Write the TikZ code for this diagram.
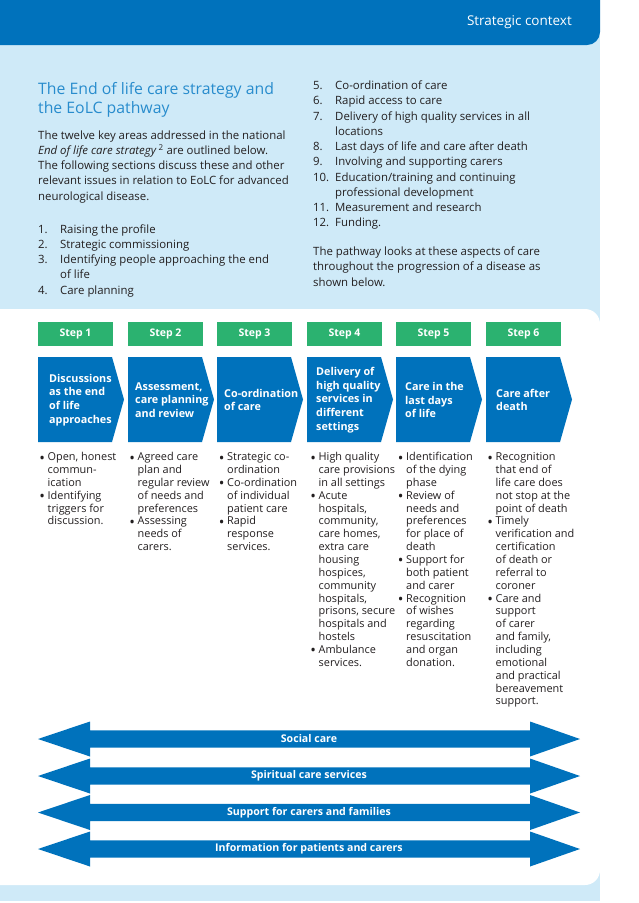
\documentclass[tikz,border=0pt]{standalone}
\usepackage{fontspec}
\setmainfont{Open Sans}
\definecolor{hdrblue}{RGB}{0,114,188}
\definecolor{paleblue}{RGB}{207,234,248}
\definecolor{titleblue}{RGB}{40,140,205}
\definecolor{stepgreen}{RGB}{43,178,112}
\definecolor{bodytext}{RGB}{35,31,32}
\newcommand{\bitem}{\makebox[7.5pt][l]{\hspace*{-0.8pt}\raisebox{-2.3pt}{\fontsize{15}{15}\selectfont\textbullet}}}
\newcommand{\bcont}{\hspace*{7.5pt}}
\newcommand{\numc}[1]{\makebox[22pt][l]{#1}}
\begin{document}
\begin{tikzpicture}[x=1pt,y=-1pt,
  stepbox/.style={fill=stepgreen,text=white,font=\bfseries\fontsize{10.5}{12}\selectfont,minimum width=75pt,minimum height=24pt,inner sep=0pt},
  chevtext/.style={text=white,font=\bfseries\fontsize{10.8}{13.8}\selectfont,align=left,anchor=west,inner sep=0pt},
  bodyblock/.style={text=bodytext,font=\fontsize{11.4}{15.25}\selectfont,anchor=base west,inner sep=0pt},
  bulletblock/.style={text=bodytext,font=\fontsize{10.9}{12.85}\selectfont,anchor=base west,inner sep=0pt},
  bandtext/.style={text=white,font=\bfseries\fontsize{10.6}{12}\selectfont,inner sep=0pt},
  chevron/.style={fill=hdrblue},
  band/.style={fill=hdrblue}]
\useasboundingbox (0,0) rectangle (638,903);
\clip (0,0) rectangle (638,903);
\fill[white] (0,0) rectangle (638,903);
\fill[paleblue] (0,0) rectangle (600,901);
\fill[hdrblue,rounded corners=13pt] (-30,-30) rectangle (600,45);
\fill[white,rounded corners=15pt] (-30,309) rectangle (600,885);
\node[text=white,font=\fontsize{13.5}{15}\selectfont,anchor=base east,inner sep=0pt] (hdr) at (572,25.5) {Strategic context};
% title and text
\node[text=titleblue,font=\fontsize{15.8}{19}\selectfont,anchor=base west,inner sep=0pt] (title) at (38,94.5)
  {\begin{tabular}[t]{@{}l@{}}The End of life care strategy and\\ the EoLC pathway\end{tabular}};
\node[bodyblock] (para) at (38,139) {\begin{tabular}[t]{@{}l@{}}
The twelve key areas addressed in the national\\
\textit{End of life care strategy}\,\textsuperscript{2} are outlined below.\\
The following sections discuss these and other\\
relevant issues in relation to EoLC for advanced\\
neurological disease.\end{tabular}};
\node[bodyblock] (listA) at (38,233) {\begin{tabular}[t]{@{}l@{}}
\numc{1.}Raising the profile\\
\numc{2.}Strategic commissioning\\
\numc{3.}Identifying people approaching the end\\
\numc{}of life\\
\numc{4.}Care planning\end{tabular}};
\node[bodyblock] (listB) at (313,89.5) {\begin{tabular}[t]{@{}l@{}}
\numc{5.}Co-ordination of care\\
\numc{6.}Rapid access to care\\
\numc{7.}Delivery of high quality services in all\\
\numc{}locations\\
\numc{8.}Last days of life and care after death\\
\numc{9.}Involving and supporting carers\\
\numc{10.}Education/training and continuing\\
\numc{}professional development\\
\numc{11.}Measurement and research\\
\numc{12.}Funding.\end{tabular}};
\node[bodyblock] (para2) at (313,255.5) {\begin{tabular}[t]{@{}l@{}}
The pathway looks at these aspects of care\\
throughout the progression of a disease as\\
shown below.\end{tabular}};
% steps and chevrons
\foreach \i/\x in {1/38,2/128,3/217,4/307,5/396,6/486}{
  \node[stepbox] (s\i) at (\x+37.5,334) {Step \i};
  \fill[chevron] (\x,357) -- (\x+74,357) -- (\x+86,399.5) -- (\x+74,442) -- (\x,442) -- cycle;
}
\node[chevtext] (c1) at (49,400) {Discussions\\as the end\\of life\\approaches};
\node[chevtext] (c2) at (135,400) {Assessment,\\care planning\\and review};
\node[chevtext] (c3) at (224,400) {Co-ordination\\of care};
\node[chevtext] (c4) at (316,400) {Delivery of\\high quality\\services in\\different\\settings};
\node[chevtext] (c5) at (405,400) {Care in the\\last days\\of life};
\node[chevtext] (c6) at (496,400) {Care after\\death};
% bullet columns
\node[bulletblock] (b1) at (40,460.7) {\begin{tabular}[t]{@{}l@{}}
\bitem Open, honest\\ \bcont commun-\\ \bcont ication\\
\bitem Identifying\\ \bcont triggers for\\ \bcont discussion.\end{tabular}};
\node[bulletblock] (b2) at (130,460.7) {\begin{tabular}[t]{@{}l@{}}
\bitem Agreed care\\ \bcont plan and\\ \bcont regular review\\ \bcont of needs and\\ \bcont preferences\\
\bitem Assessing\\ \bcont needs of\\ \bcont carers.\end{tabular}};
\node[bulletblock] (b3) at (219.5,460.7) {\begin{tabular}[t]{@{}l@{}}
\bitem Strategic co-\\ \bcont ordination\\
\bitem Co-ordination\\ \bcont of individual\\ \bcont patient care\\
\bitem Rapid\\ \bcont response\\ \bcont services.\end{tabular}};
\node[bulletblock] (b4) at (311,460.7) {\begin{tabular}[t]{@{}l@{}}
\bitem High quality\\ \bcont care provisions\\ \bcont in all settings\\
\bitem Acute\\ \bcont hospitals,\\ \bcont community,\\ \bcont care homes,\\ \bcont extra care\\ \bcont housing\\ \bcont hospices,\\ \bcont community\\ \bcont hospitals,\\ \bcont prisons, secure\\ \bcont hospitals and\\ \bcont hostels\\
\bitem Ambulance\\ \bcont services.\end{tabular}};
\node[bulletblock] (b5) at (398.5,460.7) {\begin{tabular}[t]{@{}l@{}}
\bitem Identification\\ \bcont of the dying\\ \bcont phase\\
\bitem Review of\\ \bcont needs and\\ \bcont preferences\\ \bcont for place of\\ \bcont death\\
\bitem Support for\\ \bcont both patient\\ \bcont and carer\\
\bitem Recognition\\ \bcont of wishes\\ \bcont regarding\\ \bcont resuscitation\\ \bcont and organ\\ \bcont donation.\end{tabular}};
\node[bulletblock] (b6) at (488,460.7) {\begin{tabular}[t]{@{}l@{}}
\bitem Recognition\\ \bcont that end of\\ \bcont life care does\\ \bcont not stop at the\\ \bcont point of death\\
\bitem Timely\\ \bcont verification and\\ \bcont certification\\ \bcont of death or\\ \bcont referral to\\ \bcont coroner\\
\bitem Care and\\ \bcont support\\ \bcont of carer\\ \bcont and family,\\ \bcont including\\ \bcont emotional\\ \bcont and practical\\ \bcont bereavement\\ \bcont support.\end{tabular}};
% bands
\foreach \i/\y/\t in {1/739/Social care,2/776/Spiritual care services,3/812.5/Support for carers and families,4/849/Information for patients and carers}{
  \fill[band] (38,\y) -- (90,\y-17.5) -- (90,\y-8.7) -- (530,\y-8.7) -- (530,\y-17.5) -- (580,\y) -- (530,\y+17.5) -- (530,\y+8.7) -- (90,\y+8.7) -- (90,\y+17.5) -- cycle;
  \node[bandtext] (a\i) at (309,\y) {\t};
}
\end{tikzpicture}
\end{document}
